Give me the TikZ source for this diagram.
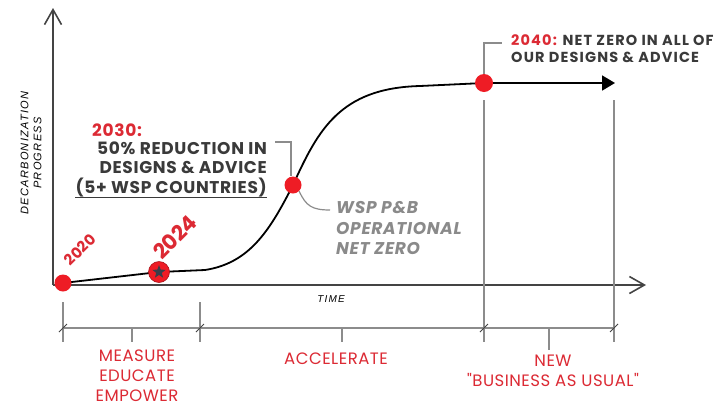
\documentclass[tikz,border=0pt]{standalone}
\usepackage{fontspec}
\setmainfont{Poppins}
\newfontfamily\axisfont{Liberation Sans}[LetterSpace=12]
\newfontfamily\widefont{Poppins}[LetterSpace=8]
\newfontfamily\midfont{Poppins}[LetterSpace=4]
\newfontfamily\phasefont{Poppins}[LetterSpace=3]
\usetikzlibrary{arrows.meta,shapes.geometric}
\definecolor{dotred}{HTML}{EE1C25}
\definecolor{txtred}{HTML}{DC2A34}
\definecolor{darktxt}{HTML}{3A3A3A}
\definecolor{graytxt}{HTML}{8A8A8A}
\definecolor{lingray}{HTML}{8C8C8C}
\definecolor{axisgray}{HTML}{444444}
\definecolor{stardark}{HTML}{3A3F4B}
\begin{document}
\begin{tikzpicture}[x=1pt,y=-1pt,
  axisline/.style={draw=axisgray,line width=1.6pt,-{Straight Barb[length=15pt,width=17pt,line width=1.6pt]}},
  curveline/.style={draw=black,line width=1.8pt},
  reddot/.style={circle,fill=dotred,minimum size=17pt,inner sep=0pt},
  callout/.style={draw=lingray,line width=1.2pt},
  bracket/.style={draw=lingray,line width=1.2pt},
  slash/.style={draw=axisgray,line width=1pt},
  bigtxt/.style={font=\midfont\fontsize{17}{20}\selectfont\bfseries,text=darktxt,inner sep=0pt},
  toptxt/.style={font=\widefont\fontsize{14.5}{17}\selectfont\bfseries,text=darktxt,inner sep=0pt,anchor=west},
  graytext/.style={font=\midfont\fontsize{17}{20}\selectfont\bfseries\itshape,text=graytxt,inner sep=0pt,anchor=west},
  phase/.style={font=\phasefont\fontsize{16.5}{20}\selectfont,text=txtred,align=center,inner sep=0pt},
  yeartxt/.style={text=txtred,rotate=45,inner sep=0pt},
  axislabel/.style={font=\axisfont\itshape\fontsize{11}{13}\selectfont,text=black,inner sep=0pt}
]
\clip (0,0) rectangle (719,408);
\fill[white] (0,0) rectangle (719,408);

% axes
\coordinate (origin) at (53,285);
\coordinate (ytip) at (53,8);
\coordinate (xtip) at (646,285);
\draw[axisline] (origin) -- (ytip);
\draw[axisline] (origin) -- (xtip);

% vertical phase lines
\coordinate (v1top) at (484,100);
\coordinate (v1bot) at (484,342);
\coordinate (v2top) at (614,100);
\coordinate (v2bot) at (614,342);
\draw[bracket] (v1top) -- (v1bot);
\draw[bracket] (v2top) -- (v2bot);
\coordinate (t1top) at (63,302);
\coordinate (t1bot) at (63,342);
\coordinate (t2top) at (200,302);
\coordinate (t2bot) at (200,342);
\draw[bracket] (t1top) -- (t1bot);
\draw[bracket] (t2top) -- (t2bot);

% bracket line
\coordinate (b0) at (63,328);
\coordinate (b1) at (200,328);
\coordinate (b2) at (484,328);
\coordinate (b3) at (614,328);
\draw[bracket] (b0) -- (b3);
\foreach \p in {b0,b1,b2,b3}{
  \draw[slash] ([shift={(-4pt,-4pt)}]\p) -- ([shift={(4pt,4pt)}]\p);
}
% centre ticks
\coordinate (m1) at (132,328);
\coordinate (m1b) at (132,342);
\coordinate (m2) at (342,328);
\coordinate (m2b) at (342,342);
\coordinate (m3) at (549,328);
\coordinate (m3b) at (549,350);
\draw[bracket] (m1) -- (m1b);
\draw[bracket] (m2) -- (m2b);
\draw[bracket] (m3) -- (m3b);

% curve
\coordinate (p2020) at (63,283);
\coordinate (p2024) at (159,272);
\coordinate (pbend) at (205,270);
\coordinate (p2030) at (293,185);
\coordinate (pplat) at (420,86);
\coordinate (p2040) at (484,83);
\coordinate (ptip) at (615,83);
\draw[curveline] (p2020) -- (p2024) -- (pbend) .. controls (250,263) and (270,230) .. (p2030)
  .. controls (318,130) and (340,88) .. (pplat) -- (p2040);
\draw[curveline,-{Triangle[length=13pt,width=15pt]}] (p2040) -- (ptip);

% dots
\node[reddot] (d2020) at (p2020) {};
\node[reddot,minimum size=21pt,draw=dotred!70!black,line width=0.6pt] (d2024) at (p2024) {};
\node[star,star points=5,star point ratio=2.4,fill=stardark,minimum size=14pt,inner sep=0pt] (s2024) at (d2024) {};
\node[reddot] (d2030) at (p2030) {};
\node[reddot,minimum size=18pt] (d2040) at (p2040) {};

% year labels
\node[yeartxt,font=\fontsize{15}{17}\selectfont\bfseries] (y2020) at (80,250) {2020};
\node[yeartxt,font=\fontsize{21}{24}\selectfont\bfseries] (y2024) at (175,237) {2024};

% 2030 text
\node[bigtxt,anchor=west,text=txtred] (h2030) at (92,130) {2030:};
\node[bigtxt,anchor=east] (l1) at (267,148) {50\% REDUCTION IN};
\node[bigtxt,anchor=east] (l2) at (267,168) {DESIGNS \& ADVICE};
\node[bigtxt,anchor=east] (l3) at (267,188) {(5+ WSP COUNTRIES)};
\draw[draw=darktxt,line width=0.9pt] ([yshift=-3.5pt]l3.base west) -- ([yshift=-3.5pt]l3.base east);
\coordinate (c30a) at (275,142);
\coordinate (c30b) at (291,142);
\draw[callout] (c30a) -- (c30b) -- (d2030.north -| c30b);

% WSP P&B
\node[graytext] (w1) at (336,208) {WSP P\&B};
\node[graytext] (w2) at (336,228) {OPERATIONAL};
\node[graytext] (w3) at (336,248) {NET ZERO};
\coordinate (cwend) at (330,210);
\draw[callout] (d2030.south east) .. controls (306,206) and (312,210) .. (cwend);

% 2040 text
\node[toptxt] (t40a) at (511,40) {\textcolor{txtred}{2040:} NET ZERO IN ALL OF};
\node[toptxt] (t40b) at (511,57) {OUR DESIGNS \& ADVICE};
\coordinate (c40) at (484,43);
\coordinate (c40e) at (502,43);
\draw[callout] (d2040.north) -- (c40) -- (c40e);

% axis labels
\node[axislabel,font=\axisfont\itshape\fontsize{10}{12}\selectfont] (time) at (331,299) {TIME};
\node[axislabel,rotate=90,align=center] (ylab) at (31,153) {DECARBONIZATION\\PROGRESS};

% phase labels
\node[phase] (ph1) at (137,376) {MEASURE\\EDUCATE\\EMPOWER};
\node[phase] (ph2) at (336,359) {ACCELERATE};
\node[phase] (ph3) at (553,371) {NEW\\\symbol{34}BUSINESS AS USUAL\symbol{34}};
\end{tikzpicture}
\end{document}
